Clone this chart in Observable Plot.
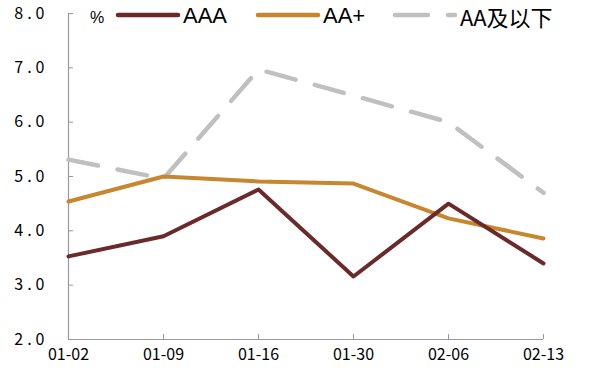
<!DOCTYPE html>
<html><head><meta charset="utf-8">
<script src="https://cdn.jsdelivr.net/npm/d3@7"></script>
<script src="https://cdn.jsdelivr.net/npm/@observablehq/plot@0.6"></script>
<style>
body{margin:0;background:#fff;}
#wrap{position:relative;width:595px;height:375px;}
.lg{position:absolute;font-family:"Liberation Sans",Arial,sans-serif;font-size:22px;color:#000;line-height:1;}
.pct{position:absolute;font-family:"Liberation Sans",Arial,sans-serif;font-size:16px;}
svg.sw{position:absolute;}
g[aria-label="y-axis tick label"] text{letter-spacing:4px;}
</style></head>
<body><div id="wrap"></div>
<script>
const dates = ["01-02","01-09","01-16","01-30","02-06","02-13"];
const aaa = [3.53,3.90,4.76,3.16,4.50,3.40];
const aaPlus = [4.54,5.00,4.91,4.87,4.23,3.86];
const aaBelow = [5.31,4.96,6.97,6.49,6.00,4.70];
const seriesNames = ["AAA","AA+","AA及以下"];
const colors = ["#6b2a2a","#c8862f","#c0c0c0"];
const yTicks = [2,3,4,5,6,7,8];

const rows = [];
[aaa, aaPlus, aaBelow].forEach((vals, i) => vals.forEach((v, j) => rows.push({date: dates[j], value: v, series: seriesNames[i]})));

const tickFont = "'Noto Sans CJK SC', sans-serif";
const chart = Plot.plot({
  width: 595, height: 375,
  marginLeft: 68, marginRight: 52, marginTop: 13, marginBottom: 36,
  x: {type: "point", domain: dates, padding: 0},
  y: {domain: [2, 8]},
  style: {fontFamily: tickFont, fontSize: "16px", color: "#000"},
  marks: [
    Plot.ruleX([dates[0]], {stroke: "#999", strokeWidth: 1.2}),
    Plot.ruleY([2], {stroke: "#999", strokeWidth: 1.2}),
    Plot.axisY({ticks: yTicks, tickSize: -5, tickPadding: 25, stroke: "#999", tickFormat: d3.format(".1f"), label: null, fontSize: 16}),
    Plot.axisX({tickSize: -5, tickPadding: 14, stroke: "#999", label: null, fontSize: 16}),
    Plot.line(rows.filter(d => d.series === "AA及以下"), {x: "date", y: "value", stroke: colors[2], strokeWidth: 4.5, strokeDasharray: "30,20", strokeLinecap: "round"}),
    Plot.line(rows.filter(d => d.series === "AA+"), {x: "date", y: "value", stroke: colors[1], strokeWidth: 4}),
    Plot.line(rows.filter(d => d.series === "AAA"), {x: "date", y: "value", stroke: colors[0], strokeWidth: 4})
  ]
});
const wrap = document.getElementById("wrap");
wrap.appendChild(chart);

// legend overlay
const pct = document.createElement("div");
pct.className = "pct"; pct.textContent = "%";
pct.style.left = "90px"; pct.style.top = "9px";
wrap.appendChild(pct);
const pos = [[118,183],[258,323],[395,460]];
seriesNames.forEach((name, i) => {
  const s = document.createElementNS("http://www.w3.org/2000/svg", "svg");
  s.setAttribute("class", "sw");
  s.setAttribute("width", 66); s.setAttribute("height", 10);
  s.style.left = (pos[i][0] - 3) + "px"; s.style.top = "10px";
  const l = document.createElementNS("http://www.w3.org/2000/svg", "line");
  l.setAttribute("x1", 3); l.setAttribute("x2", 63); l.setAttribute("y1", 5); l.setAttribute("y2", 5);
  l.setAttribute("stroke", colors[i]); l.setAttribute("stroke-width", 4.5);
  l.setAttribute("stroke-linecap", "round");
  if (i === 2) l.setAttribute("stroke-dasharray", "33,20");
  s.appendChild(l);
  wrap.appendChild(s);
  const t = document.createElement("div");
  t.className = "lg"; t.textContent = name;
  t.style.left = pos[i][1] + "px"; t.style.top = "5px";
  if (i === 2) t.style.fontFamily = "'Noto Sans CJK SC','Liberation Sans',sans-serif";
  wrap.appendChild(t);
});
</script></body></html>
